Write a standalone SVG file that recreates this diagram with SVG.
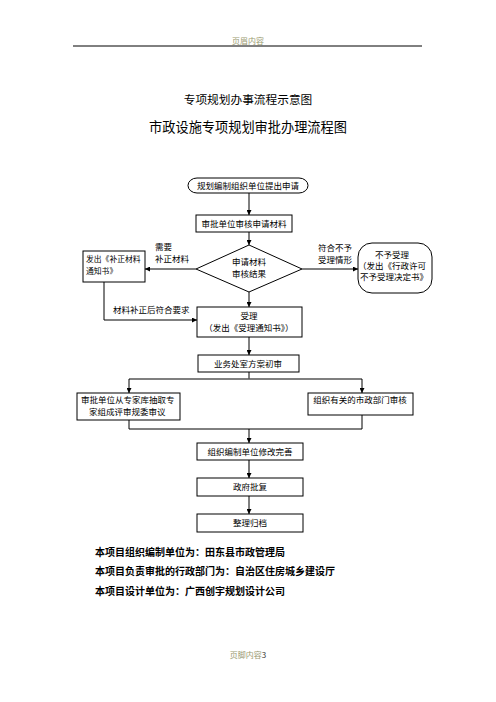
<svg xmlns="http://www.w3.org/2000/svg" width="496" height="702" viewBox="0 0 496 702">
<defs>
<marker id="ah" viewBox="0 0 10 10" refX="10" refY="5" markerWidth="5" markerHeight="5" orient="auto" markerUnits="userSpaceOnUse">
<path d="M0,0 L10,5 L0,10 z" fill="#000"/>
</marker>
</defs>
<style>
text{font-family:"Noto Sans CJK SC","Liberation Serif",serif;fill:#000}
.n{font-size:8.5px;text-anchor:middle}
.l{font-size:8.5px}
.box{fill:#fff;stroke:#000;stroke-width:1}
.c{fill:none;stroke:#000;stroke-width:1}
.g{fill:none;stroke:#555;stroke-width:1.6}
.hf{font-size:8px;fill:#9a9a70;text-anchor:middle}
.b{font-size:10px;font-weight:bold}
</style>
<rect width="496" height="702" fill="#fff"/>
<text class="hf" x="248" y="44">页眉内容</text>
<line x1="73" y1="46" x2="422" y2="46" stroke="#000" stroke-width="1"/>
<text x="248" y="104" font-size="11.7" text-anchor="middle">专项规划办事流程示意图</text>
<text x="248" y="132" font-size="13.2" text-anchor="middle">市政设施专项规划审批办理流程图</text>

<g id="connectors">
<line class="c" x1="249" y1="193" x2="249" y2="215" marker-end="url(#ah)"/>
<line class="c" x1="249" y1="232" x2="249" y2="245" marker-end="url(#ah)"/>
<line class="c" x1="196" y1="269" x2="145" y2="269" marker-end="url(#ah)"/>
<line class="c" x1="302" y1="269" x2="358" y2="269" marker-end="url(#ah)"/>
<line class="c" x1="249" y1="292" x2="249" y2="307" marker-end="url(#ah)"/>
<polyline class="c" points="104,282 104,320 197,320" marker-end="url(#ah)"/>
<line class="c" x1="249" y1="337" x2="249" y2="355" marker-end="url(#ah)"/>
<line class="c" x1="249" y1="372" x2="249" y2="379"/>
<line class="g" x1="129" y1="379" x2="362" y2="379"/>
<line class="c" x1="129" y1="379" x2="129" y2="393" marker-end="url(#ah)"/>
<line class="c" x1="362" y1="379" x2="362" y2="393" marker-end="url(#ah)"/>
<polyline class="c" points="129,420 129,429 362,429 362,415"/>
<line class="c" x1="249" y1="429" x2="249" y2="443" marker-end="url(#ah)"/>
<line class="g" x1="249" y1="460" x2="249" y2="478" marker-end="url(#ah)"/>
<line class="c" x1="249" y1="496" x2="249" y2="514" marker-end="url(#ah)"/>
<text class="l" x="155" y="250">需要</text>
<text class="l" x="155" y="262">补正材料</text>
<text class="l" x="318" y="251">符合不予</text>
<text class="l" x="318" y="263">受理情形</text>
<text class="l" x="113" y="313">材料补正后符合要求</text>
</g>

<g id="start">
<rect class="box" x="188" y="178" width="120" height="15" rx="9" ry="7.5"/>
<text class="n" x="248" y="189">规划编制组织单位提出申请</text>
</g>
<g id="review">
<rect class="box" x="196" y="215" width="96" height="17"/>
<text class="n" x="244" y="226.5">审批单位审核申请材料</text>
</g>
<g id="decision">
<polygon class="box" points="249,245 302,269 249,292 196,269"/>
<text class="n" x="249" y="265">申请材料</text>
<text class="n" x="249" y="277">审核结果</text>
</g>
<g id="supplement">
<rect class="box" x="83" y="251" width="62" height="31"/>
<text x="86" y="262" font-size="7.8">发出《补正材料</text>
<text x="86" y="274" font-size="7.8">通知书》</text>
</g>
<g id="reject">
<rect class="box" x="358" y="243" width="74" height="50" rx="14" ry="14"/>
<text class="n" x="392" y="258">不予受理</text>
<text class="n" x="392" y="269">（发出《行政许可</text>
<text class="n" x="394" y="280">不予受理决定书》</text>
</g>
<g id="accept">
<rect class="box" x="197" y="307" width="105" height="30"/>
<text class="n" x="249" y="319">受理</text>
<text class="n" x="249" y="331">（发出《受理通知书》）</text>
</g>
<g id="prelim">
<rect class="box" x="198" y="355" width="101" height="17"/>
<text class="n" x="248" y="366.5">业务处室方案初审</text>
</g>
<g id="expert">
<rect class="box" x="77" y="393" width="103" height="27"/>
<text class="l" x="81" y="403">审批单位从专家库抽取专</text>
<text class="l" x="89" y="415">家组成评审规委审议</text>
</g>
<g id="dept">
<rect class="box" x="308" y="393" width="105" height="22"/>
<text class="n" x="360" y="403">组织有关的市政部门审核</text>
</g>
<g id="revise">
<rect class="box" x="197" y="443" width="106" height="17"/>
<text class="n" x="250" y="454.5">组织编制单位修改完善</text>
</g>
<g id="approve">
<rect class="box" x="197" y="478" width="106" height="18"/>
<text class="n" x="250" y="490">政府批复</text>
</g>
<g id="archive">
<rect class="box" x="197" y="514" width="106" height="18"/>
<text class="n" x="250" y="526">整理归档</text>
</g>

<text class="b" x="95" y="556">本项目组织编制单位为：田东县市政管理局</text>
<text class="b" x="95" y="575">本项目负责审批的行政部门为：自治区住房城乡建设厅</text>
<text class="b" x="95" y="595">本项目设计单位为：广西创宇规划设计公司</text>

<text class="hf" x="248" y="658">页脚内容<tspan fill="#333">3</tspan></text>
</svg>
